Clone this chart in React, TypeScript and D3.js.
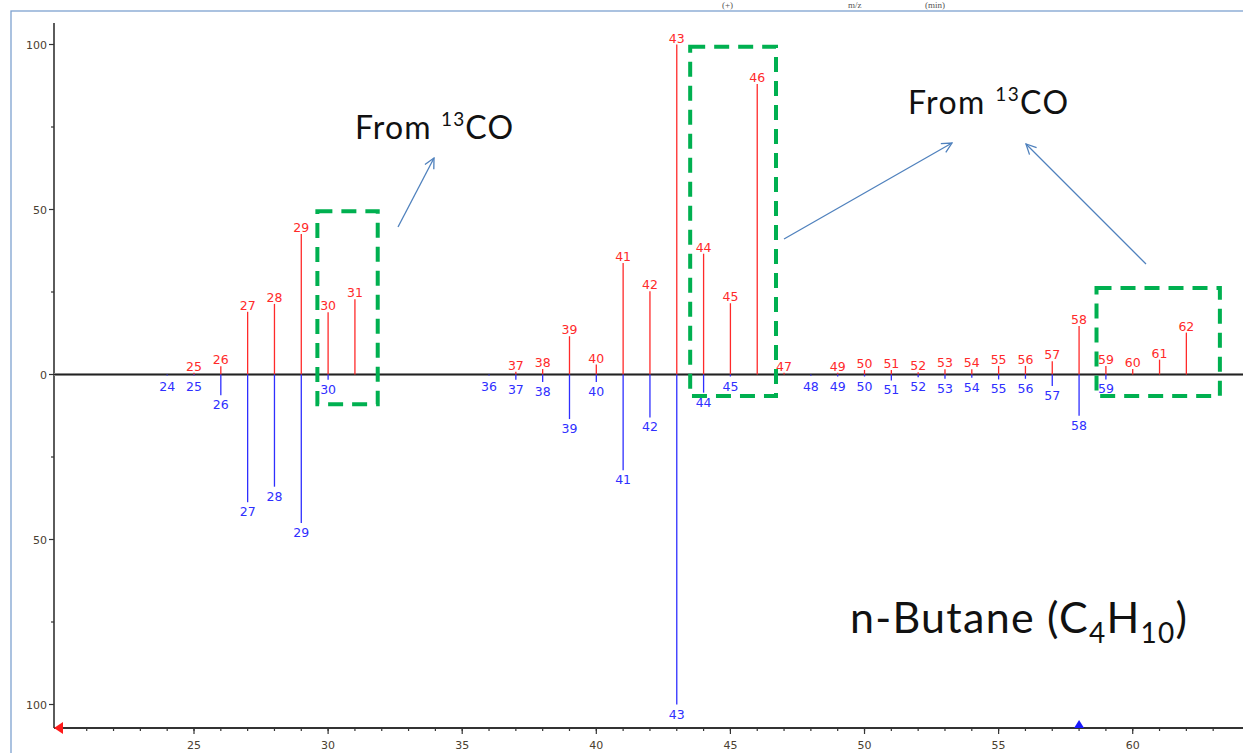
import React from "react";
import * as d3 from "d3";

// Mass spectrum: upper trace (red) and mirrored lower trace (blue), m/z vs relative intensity
const upperMasses = [25, 26, 27, 28, 29, 30, 31, 37, 38, 39, 40, 41, 42, 43, 44, 45, 46, 47, 49, 50, 51, 52, 53, 54, 55, 56, 57, 58, 59, 60, 61, 62];
const upperValues = [0.5, 2.5, 19, 21.4, 42.6, 18.9, 22.8, 0.8, 1.7, 11.6, 3, 33.8, 25.2, 100, 36.6, 21.6, 88, 0.5, 0.5, 1.4, 1.4, 0.7, 1.6, 1.6, 2.6, 2.6, 4, 14.7, 2.6, 1.7, 4.5, 12.7];

const lowerMasses = [24, 25, 26, 27, 28, 29, 30, 36, 37, 38, 39, 40, 41, 42, 43, 44, 45, 48, 49, 50, 51, 52, 53, 54, 55, 56, 57, 58, 59];
const lowerValues = [0.3, 0.3, 6.3, 38.7, 34, 45, 1.6, 0.3, 1.6, 2.3, 13.5, 2.3, 29, 13, 100, 5.5, 0.6, 0.4, 0.6, 0.6, 1.8, 0.8, 1.3, 1.0, 1.5, 1.3, 3.5, 12.5, 1.5];

const xTickMajor = [25, 30, 35, 40, 45, 50, 55, 60];
const yTickMajor = [100, 50, 0, -50, -100];
const yTickMinor = [75, 25, -25, -75];

const W = 1243;
const H = 753;

const x = d3.scaleLinear().domain([19.78, 64]).range([54, 1240]);
const y = d3.scaleLinear().domain([-100, 100]).range([704.5, 44.5]);

const RED = "#ff2a2a";
const BLUE = "#2f2fff";
const GREEN = "#00b050";
const ARROW = "#4f81bd";
const AXIS = "#333";
const TICK_TEXT = "#4a4030";
const LABEL_FONT = "'DejaVu Sans', Verdana, sans-serif";
const NOTE_FONT = "Lato, 'Open Sans', sans-serif";

const zeroY = y(0);
const minorXTicks = d3.range(20, 64);

const boxes = [
  { m0: 29.6, m1: 31.85, v0: 49.5, v1: -9 },
  { m0: 43.5, m1: 46.7, v0: 99.3, v1: -6.5 },
  { m0: 58.65, m1: 63.25, v0: 26.2, v1: -6.5 },
];

const arrows = [
  { x1: 398, y1: 227, x2: 434, y2: 158 },
  { x1: 784, y1: 239, x2: 952, y2: 143 },
  { x1: 1146, y1: 264, x2: 1026, y2: 144 },
];

export default function App() {
  return (
    <svg
      width={W}
      height={H}
      style={{ position: "absolute", left: 0, top: 0, background: "#fff" }}
    >
      <defs>
        <marker
          id="openArrow"
          viewBox="0 0 12 12"
          refX="11"
          refY="6"
          markerWidth="12"
          markerHeight="12"
          markerUnits="userSpaceOnUse"
          orient="auto"
        >
          <path d="M1,1 L11,6 L1,11" fill="none" stroke={ARROW} strokeWidth="1.3" />
        </marker>
      </defs>

      {/* header line above the frame */}
      <g fontFamily="'Liberation Serif', serif" fontSize={9} fill="#555">
        <text x={722} y={8}>(+)</text>
        <text x={848} y={8}>m/z</text>
        <text x={925} y={8}>(min)</text>
      </g>

      {/* frame */}
      <rect x={11} y={11} width={W} height={H} fill="none" stroke="#7ea2d0" strokeWidth={1.3} />

      {/* y axis */}
      <line x1={54} x2={54} y1={23} y2={728} stroke={AXIS} strokeWidth={1.6} />
      {yTickMajor.map((v) => (
        <g key={"yt" + v}>
          <line x1={49} x2={54} y1={y(v)} y2={y(v)} stroke={AXIS} strokeWidth={1.2} />
          <text
            x={47}
            y={y(v) + 4}
            textAnchor="end"
            fontFamily={LABEL_FONT}
            fontSize={11}
            fill={TICK_TEXT}
          >
            {Math.abs(v)}
          </text>
        </g>
      ))}
      {yTickMinor.map((v) => (
        <line key={"ym" + v} x1={51} x2={54} y1={y(v)} y2={y(v)} stroke={AXIS} strokeWidth={1.2} />
      ))}

      {/* x axis */}
      <line x1={54} x2={W} y1={728} y2={728} stroke={AXIS} strokeWidth={1.8} />
      {minorXTicks.map((m) => (
        <line key={"xm" + m} x1={x(m)} x2={x(m)} y1={728} y2={731} stroke={AXIS} strokeWidth={1.2} />
      ))}
      {xTickMajor.map((m) => (
        <g key={"xt" + m}>
          <line x1={x(m)} x2={x(m)} y1={728} y2={734} stroke={AXIS} strokeWidth={1.2} />
          <text
            x={x(m)}
            y={749}
            textAnchor="middle"
            fontFamily={LABEL_FONT}
            fontSize={11}
            fill={TICK_TEXT}
          >
            {m}
          </text>
        </g>
      ))}
      <polygon points={`54,728 63,722 63,734`} fill="#ff1a1a" />
      <polygon points={`${x(58) - 5},728 ${x(58) + 5},728 ${x(58)},720`} fill="#1a1aff" />

      {/* zero line */}
      <line x1={54} x2={W} y1={zeroY} y2={zeroY} stroke="#aaa" strokeWidth={3} />
      <line x1={54} x2={W} y1={zeroY} y2={zeroY} stroke="#222" strokeWidth={1.3} />

      {/* upper spectrum */}
      {upperMasses.map((m, i) => {
        const top = y(upperValues[i]);
        const base = Math.min(top - 2, zeroY - 4);
        return (
          <g key={"u" + m}>
            <line x1={x(m)} x2={x(m)} y1={zeroY} y2={top} stroke={RED} strokeWidth={1.3} />
            <text
              x={x(m)}
              y={base}
              textAnchor="middle"
              fontFamily={LABEL_FONT}
              fontSize={12.5}
              fill={RED}
            >
              {m}
            </text>
          </g>
        );
      })}

      {/* lower spectrum */}
      {lowerMasses.map((m, i) => {
        const bottom = y(-lowerValues[i]);
        const base = Math.max(bottom + 14, zeroY + 16);
        return (
          <g key={"l" + m}>
            <line x1={x(m)} x2={x(m)} y1={zeroY} y2={bottom} stroke={BLUE} strokeWidth={1.3} />
            <text
              x={x(m)}
              y={base}
              textAnchor="middle"
              fontFamily={LABEL_FONT}
              fontSize={12.5}
              fill={BLUE}
            >
              {m}
            </text>
          </g>
        );
      })}

      {/* highlighted 13C regions */}
      {boxes.map((b, i) => (
        <rect
          key={"b" + i}
          x={x(b.m0)}
          y={y(b.v0)}
          width={x(b.m1) - x(b.m0)}
          height={y(b.v1) - y(b.v0)}
          fill="none"
          stroke={GREEN}
          strokeWidth={4}
          strokeDasharray="15 9"
        />
      ))}

      {arrows.map((a, i) => (
        <line
          key={"a" + i}
          x1={a.x1}
          y1={a.y1}
          x2={a.x2}
          y2={a.y2}
          stroke={ARROW}
          strokeWidth={1.3}
          markerEnd="url(#openArrow)"
        />
      ))}

      <text x={355} y={139} fontFamily={NOTE_FONT} fontSize={32} fill="#111" textLength={158} lengthAdjust="spacing">
        From <tspan fontSize={19} dy={-13}>13</tspan>
        <tspan dy={13}>CO</tspan>
      </text>
      <text x={908} y={114} fontFamily={NOTE_FONT} fontSize={32} fill="#111" textLength={160} lengthAdjust="spacing">
        From <tspan fontSize={19} dy={-13}>13</tspan>
        <tspan dy={13}>CO</tspan>
      </text>

      <text x={850} y={633} fontFamily={NOTE_FONT} fontSize={43} fill="#111" textLength={337} lengthAdjust="spacing">
        n-Butane (C<tspan fontSize={28} dy={10}>4</tspan>
        <tspan dy={-10}>H</tspan>
        <tspan fontSize={28} dy={10}>10</tspan>
        <tspan dy={-10}>)</tspan>
      </text>
    </svg>
  );
}
